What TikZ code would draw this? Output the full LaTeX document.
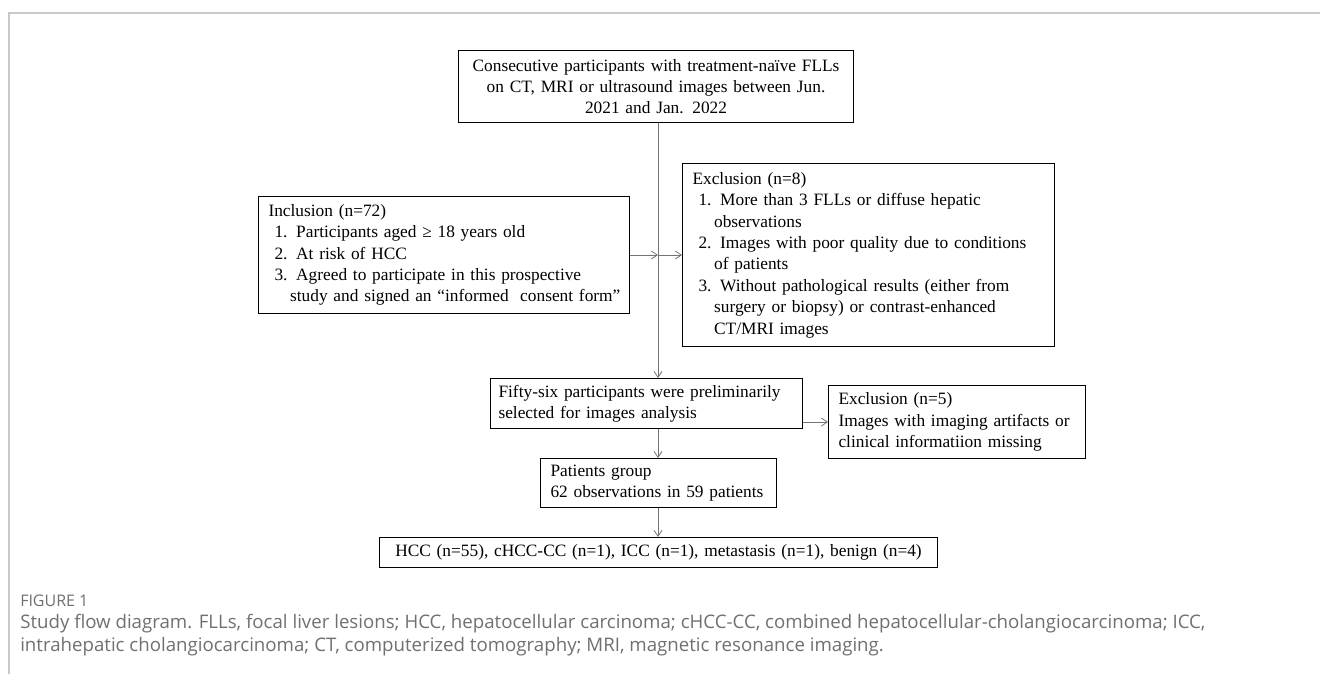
\documentclass[tikz,border=0pt]{standalone}
\usepackage{fontspec}
\setmainfont{Liberation Serif}
\newfontfamily\capfont{Open Sans}
\usetikzlibrary{arrows.meta}
\definecolor{framegray}{HTML}{C8C8C8}
\definecolor{capgray}{HTML}{707070}
\newcommand{\hd}{\hspace*{5.5pt}}
\newcommand{\itm}{\hspace*{10pt}}
\newcommand{\cnt}{\hspace*{21.7pt}}
\begin{document}
\begin{tikzpicture}[x=0.75pt,y=-0.75pt,
  box/.style={draw=black, line width=0.8pt, inner xsep=2pt, inner ysep=0pt, anchor=north west,
    font=\fontsize{13}{16.05}\selectfont},
  arr/.style={draw=black!55, line width=0.6pt, -{Straight Barb[length=4.5pt,width=6pt]}},
  captext/.style={anchor=base west, inner sep=0pt, text=capgray}]
\useasboundingbox (0,0) rectangle (1320,674);
\fill[white] (0,0) rectangle (1320,674);
% frame
\draw[framegray, line width=1.1pt] (9,674) -- (9,13) -- (1320,13);
% boxes
\node[box, minimum width=296.25pt, minimum height=54pt, text width=292pt, align=center] (top) at (458,50)
  {Consecutive participants with treatment-naïve FLLs\\ on CT, MRI or ultrasound images between Jun.\\ 2021 and Jan. 2022};
\coordinate (spine) at (658,123);
\node[box, minimum width=278.25pt, minimum height=87.75pt, text width=274.25pt, align=left] (incl) at (258,196)
  {\hd Inclusion (n=72)\\
   \itm 1. Participants aged ≥ 18 years old\\
   \itm 2. At risk of HCC\\
   \itm 3. Agreed to participate in this prospective\\
   \cnt study and signed an “informed\ \ consent form”};
\node[box, minimum width=279pt, minimum height=137.25pt, text width=275pt, align=left] (excl) at (682,163)
  {\hd Exclusion (n=8)\\
   \itm 1. More than 3 FLLs or diffuse hepatic\\
   \cnt observations\\
   \itm 2. Images with poor quality due to conditions\\
   \cnt of patients\\
   \itm 3. Without pathological results (either from\\
   \cnt surgery or biopsy) or contrast-enhanced\\
   \cnt CT/MRI images};
\node[box, minimum width=234pt, minimum height=37.5pt, text width=230pt, align=left] (fifty) at (490,378)
  {\hspace*{4pt}Fifty-six participants were preliminarily\\ \hspace*{4pt}selected for images analysis};
\node[box, minimum width=192.75pt, minimum height=54.75pt, text width=188.75pt, align=left] (excl2) at (828,385)
  {\hd Exclusion (n=5)\\ \hd Images with imaging artifacts or\\ \hd clinical informatiion missing};
\node[box, minimum width=177pt, minimum height=36.75pt, text width=173pt, align=left] (pat) at (540,458)
  {\hd Patients group\\ \hd 62 observations in 59 patients};
\node[box, minimum width=418.5pt, minimum height=22.5pt, text width=414pt, align=center] (res) at (379,537)
  {HCC (n=55), cHCC-CC (n=1), ICC (n=1), metastasis (n=1), benign (n=4)};
% connectors
\coordinate (j) at (spine |- incl.east);
\draw[arr] (spine) -- (spine |- fifty.north);
\draw[arr] (incl.east) -- (j);
\draw[arr] (j) -- (j -| excl.west);
\draw[arr] (fifty.east |- excl2.west) -- (excl2.west);
\draw[arr] (spine |- fifty.south) -- (spine |- pat.north);
\draw[arr] (spine |- pat.south) -- (spine |- res.north);
% caption
\node[captext, font=\capfont\fontsize{12}{14}\selectfont] (fig) at (20,606) {FIGURE 1};
\node[captext, font=\capfont\fontsize{14}{17}\selectfont] (cap1) at (20,628)
  {Study flow diagram. FLLs, focal liver lesions; HCC, hepatocellular carcinoma; cHCC-CC, combined hepatocellular-cholangiocarcinoma; ICC,};
\node[captext, font=\capfont\fontsize{14}{17}\selectfont] (cap2) at (20,651)
  {intrahepatic cholangiocarcinoma; CT, computerized tomography; MRI, magnetic resonance imaging.};
\end{tikzpicture}
\end{document}
